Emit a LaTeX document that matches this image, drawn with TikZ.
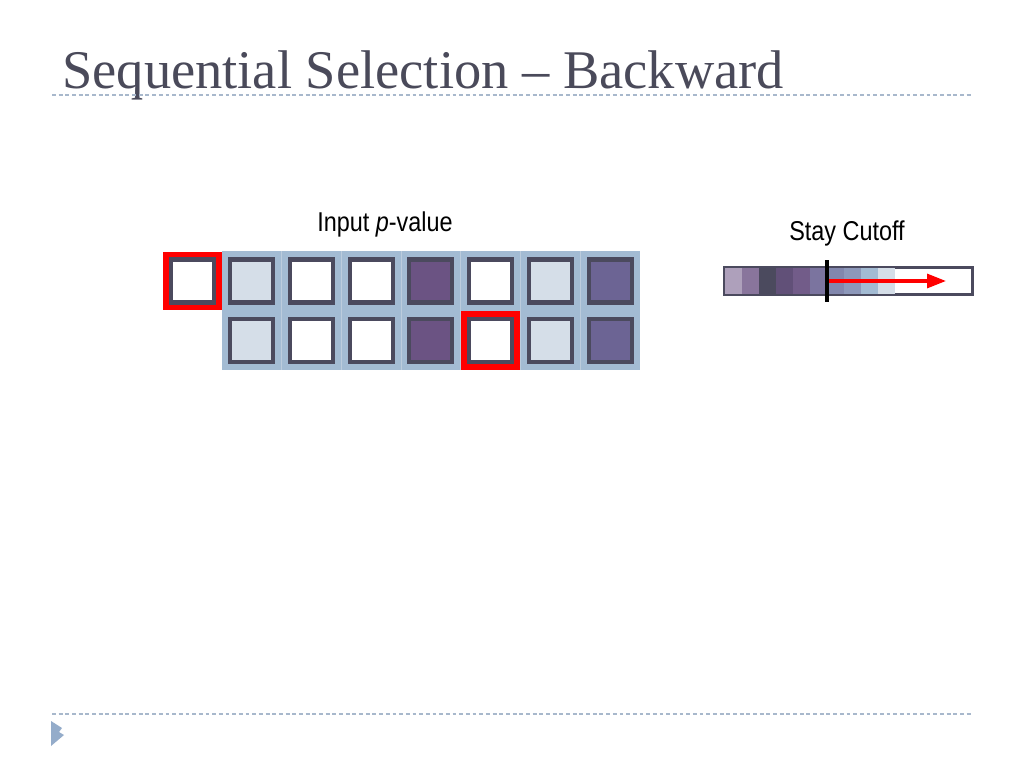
\documentclass[tikz,border=0pt]{standalone}
\usepackage{fontspec}
\setmainfont{Liberation Serif}
\setsansfont{Liberation Sans}
\newfontfamily\narrowsans[FakeStretch=0.86]{Liberation Sans}
\usepackage{tikz}
\usetikzlibrary{arrows.meta,positioning}
\definecolor{titletext}{HTML}{4A4A5A}
\definecolor{rule}{HTML}{A8B8CC}
\definecolor{bullet}{HTML}{94ACCA}
\definecolor{gridbg}{HTML}{A3BBD3}
\definecolor{gridsep}{HTML}{BCCCDD}
\definecolor{boxedge}{HTML}{4B4A5E}
\definecolor{boxlight}{HTML}{D5DEE8}
\definecolor{boxpurple}{HTML}{6B5383}
\definecolor{boxblue}{HTML}{6C6494}
\definecolor{hot}{HTML}{FF0000}
\tikzset{
  cellbox/.style={draw=boxedge, line width=2.3pt, minimum size=0.86cm,
                  inner sep=0pt, fill=white},
  pick/.style={draw=hot, line width=3.4pt, minimum size=1.06cm, inner sep=0pt},
  slide rule/.style={draw=rule, line width=0.6pt, dash pattern=on 2.2pt off 1.6pt},
  label text/.style={font=\narrowsans\fontsize{15.5}{18}\selectfont, text=black},
  seg/.style={minimum width=0.34cm, minimum height=0.52cm, inner sep=0pt,
              outer sep=0pt, draw=none, anchor=west}
}
\begin{document}
\begin{tikzpicture}[x=0.02cm,y=-0.02cm,>=Latex]
  \useasboundingbox[fill=white] (0,0) rectangle (1024,768);

  % title and slide rules
  \node[anchor=base west, inner sep=0pt, text=titletext,
        font=\fontsize{31}{36}\selectfont] (title) at (62,88)
    {Sequential Selection -- Backward};
  \coordinate (ruleTL) at (52,95);
  \coordinate (ruleTR) at (972,95);
  \coordinate (ruleBL) at (52,714);
  \coordinate (ruleBR) at (972,714);
  \draw[slide rule] (ruleTL) -- (ruleTR);
  \draw[slide rule] (ruleBL) -- (ruleBR);
  \fill[bullet] (51,721) -- (62,728) -- (59,732) -- (64,735) -- (51,746) -- cycle;

  % input grid
  \node[label text] (inlabel) at (385,224) {Input \textit{p}-value};
  \fill[gridbg] (222,251) rectangle (640,370);
  \foreach \k in {1,...,6}
    \draw[gridsep, line width=0.6pt] ({222+\k*59.7},251) -- ({222+\k*59.7},370);

  \node[cellbox] (a0) at (192.5,281) {};
  \foreach \k/\f in {1/boxlight,2/white,3/white,4/boxpurple,5/white,6/boxlight,7/boxblue}
    \node[cellbox, fill=\f] (a\k) at ({222+(\k-0.5)*59.7},281) {};
  \foreach \k/\f in {1/boxlight,2/white,3/white,4/boxpurple,5/white,6/boxlight,7/boxblue}
    \node[cellbox, fill=\f] (b\k) at ({222+(\k-0.5)*59.7},340.5) {};
  \node[pick] (pickA) at (a0) {};
  \node[pick] (pickB) at (b5) {};

  % stay cutoff bar
  \node[label text] (stay) at (847,233) {Stay Cutoff};
  \node[draw=boxedge, line width=1.3pt, fill=white, minimum width=4.94cm,
        minimum height=0.52cm, inner sep=0pt, anchor=west] (bar) at (724,281) {};
  \node[seg, fill=boxpurple!55] (s1) at (725,281) {};
  \node[seg, fill=boxpurple!80, right=0pt of s1] (s2) {};
  \node[seg, fill=boxedge, right=0pt of s2] (s3) {};
  \node[seg, fill=boxpurple!70!boxedge, right=0pt of s3] (s4) {};
  \node[seg, fill=boxpurple!95, right=0pt of s4] (s5) {};
  \node[seg, fill=boxblue!90, right=0pt of s5] (s6) {};
  \node[seg, fill=boxblue!60!gridbg, right=0pt of s6] (s7) {};
  \node[seg, fill=boxblue!40!gridbg, right=0pt of s7] (s8) {};
  \node[seg, fill=gridbg, right=0pt of s8] (s9) {};
  \node[seg, fill=boxlight, right=0pt of s9] (s10) {};
  \draw[boxedge, line width=1.3pt] (bar.south west) rectangle (bar.north east);

  \coordinate (cutTop) at (827,260);
  \coordinate (cutBot) at (827,302);
  \coordinate (stayEnd) at (946,281);
  \draw[hot, line width=1.8pt, -{Triangle[length=0.38cm,width=0.28cm]}]
    (s6.east) -- (stayEnd);
  \draw[black, line width=1.8pt] (cutTop) -- (cutBot);
\end{tikzpicture}
\end{document}
